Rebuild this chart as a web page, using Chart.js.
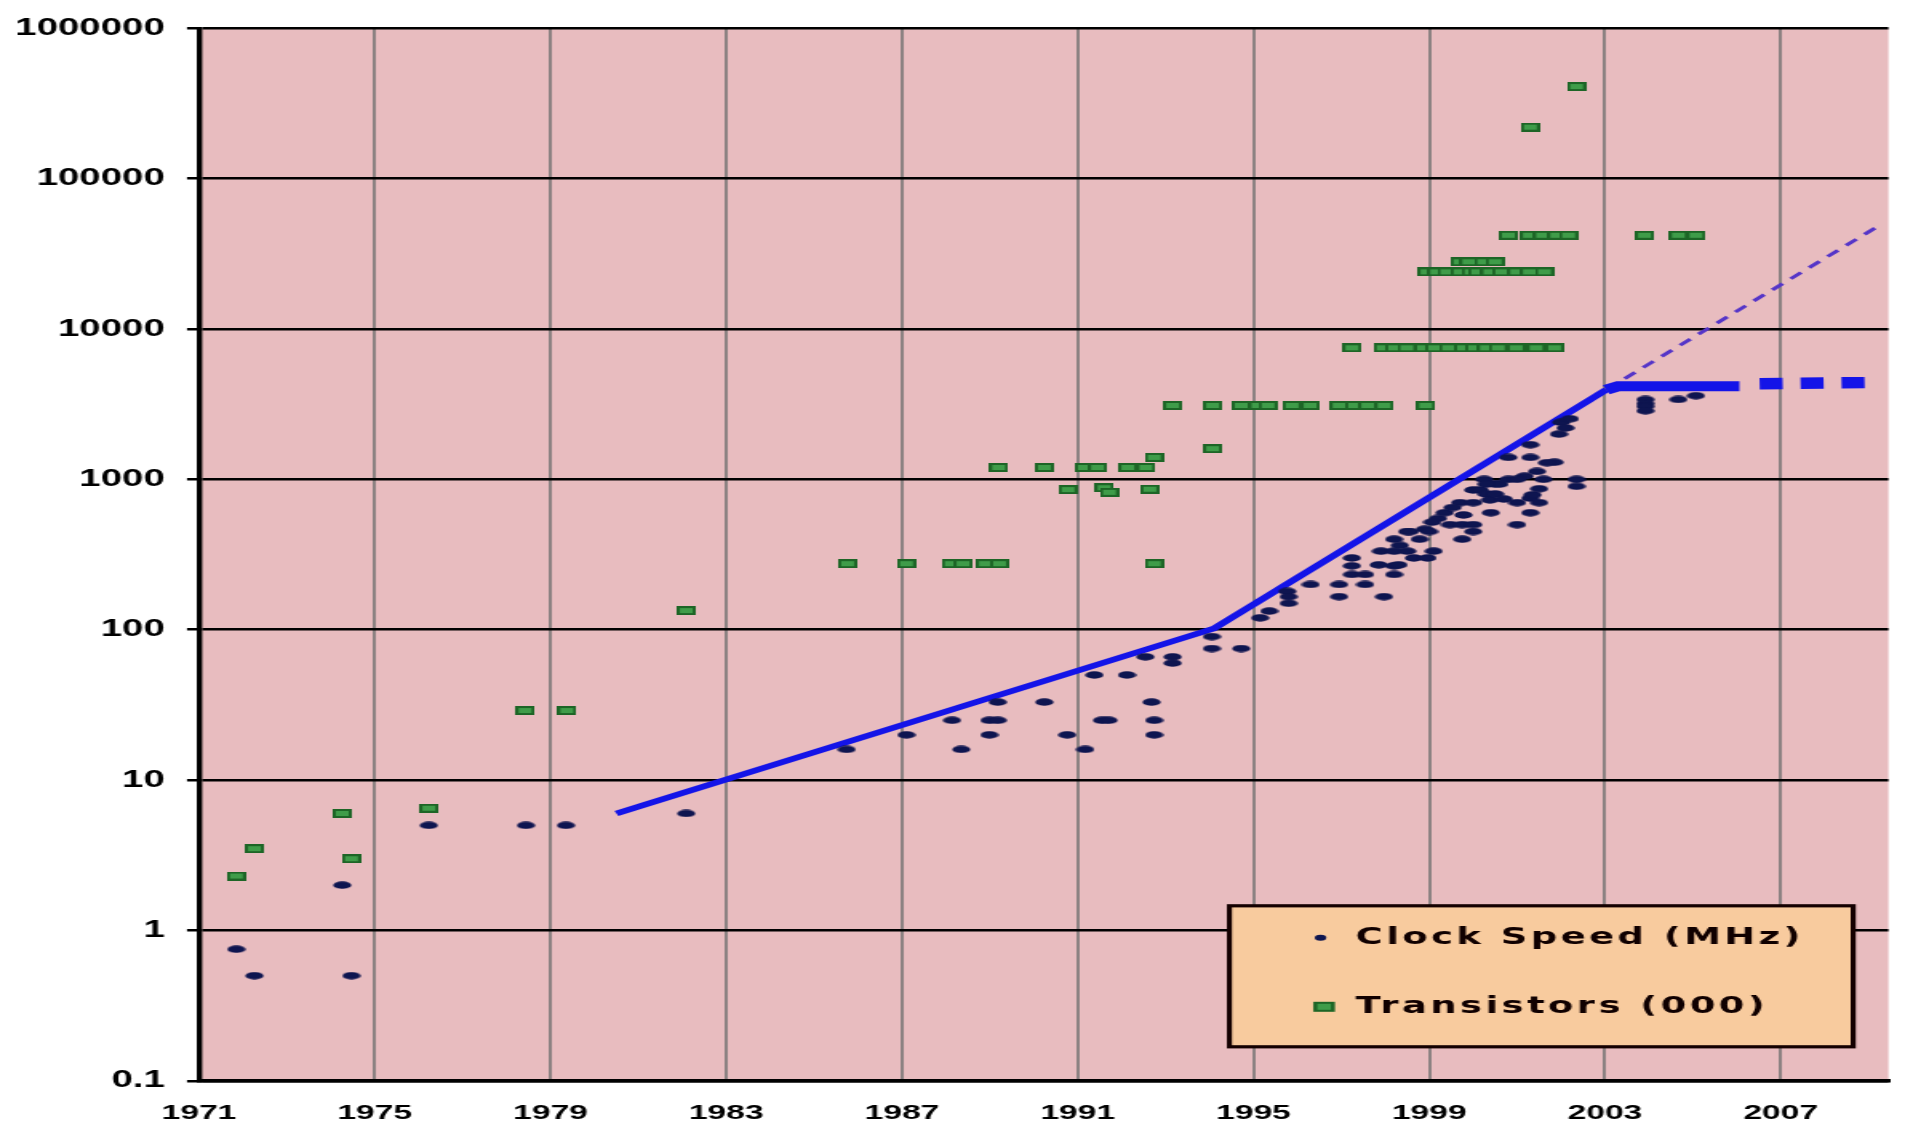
<!DOCTYPE html>
<html>
<head>
<meta charset="utf-8">
<title>Clock Speed and Transistors</title>
<script src="https://cdn.jsdelivr.net/npm/chart.js@4.4.0/dist/chart.umd.min.js"></script>
<style>
  html, body { margin: 0; padding: 0; background: #fff; overflow: hidden; }
</style>
</head>
<body>
<!-- the canvas is drawn narrow and shown wide, like the old stretched chart -->
<canvas id="myChart" width="1196" height="1127" style="display:block;width:1913px;height:1127px"></canvas>
<script>

// clock speed per processor (MHz)
const clockYears = [
  1971.85, 1972.26, 1974.26, 1974.47, 1976.23, 1978.44, 1979.35, 1982.09,
  1985.74, 1987.1, 1988.14, 1988.35, 1988.99, 1989.18, 1988.99, 1989.18,
  1990.24, 1990.76, 1991.17, 1991.38, 1991.55, 1991.7, 1992.12, 1992.54,
  1992.68, 1992.74, 1992.74, 1993.16, 1993.16, 1994.05, 1994.05, 1994.72,
  1995.15, 1995.36, 1995.77, 1995.8, 1995.8, 1996.3, 1996.95, 1996.95,
  1997.24, 1997.24, 1997.24, 1997.54, 1997.54, 1997.97, 1997.9, 1998.2,
  1998.2, 1998.2, 1998.2, 1998.5, 1998.5, 1998.65, 1998.56, 1998.9,
  1998.96, 1999.0, 1999.1, 1999.2, 1999.35, 1999.47, 1999.7, 1999.75,
  1999.75, 1999.78, 2000.0, 2000.0, 2000.0, 2000.0, 2000.15, 2000.25,
  2000.3, 2000.38, 2000.4, 2000.5, 2000.5, 2000.6, 2000.8, 2000.8,
  2001.0, 2001.0, 2001.17, 2001.3, 2001.3, 2001.3, 2001.3, 2001.35,
  2001.45, 2001.5, 2001.6, 2001.85, 2001.95, 2002.0, 2002.1, 2002.2,
  2002.35, 2002.35, 2003.92, 2003.92, 2003.92, 2003.92, 2004.67, 2005.07,
  1998.33, 1998.78, 1999.07, 1999.53, 2000.3, 2000.7, 2001.0, 2001.68,
  2001.5, 1998.3, 1997.85
];
const clockMHz = [
  0.75, 0.5, 2, 0.5, 5, 5, 5, 6,
  16, 20, 25, 16, 25, 25, 20, 33,
  33, 20, 16, 50, 25, 25, 50, 66,
  33, 25, 20, 66, 60, 90, 75, 75,
  120, 133, 180, 166, 150, 200, 200, 166,
  300, 266, 233, 233, 200, 166, 333, 400,
  333, 266, 233, 450, 333, 300, 450, 466,
  300, 450, 333, 550, 600, 500, 700, 500,
  400, 580, 850, 700, 500, 450, 850, 1000,
  800, 730, 600, 933, 800, 930, 1400, 1000,
  700, 500, 1050, 1700, 1400, 750, 600, 790,
  1130, 866, 1000, 1300, 2000, 2400, 2200, 2530,
  1000, 900, 3400, 3200, 3060, 2860, 3400, 3600,
  364, 400, 520, 650, 930, 740, 1000, 1290,
  700, 270, 270
];

// transistor counts (thousands)
const transistorYears = [
  1971.85, 1972.26, 1974.26, 1974.47, 1976.23, 1978.42, 1979.37, 1982.09,
  1985.76, 1987.1, 1988.12, 1988.39, 1988.9, 1989.22, 1989.2, 1990.24,
  1990.78, 1991.15, 1991.45, 1991.6, 1991.72, 1992.14, 1992.55, 1992.64,
  1992.74, 1992.74, 1993.16, 1994.07, 1994.07, 1994.72, 1995.1, 1995.33,
  1995.88, 1996.29, 1996.95, 1997.3, 1997.6, 1997.97, 1998.92,
  1997.24, 1997.95, 1998.21, 1998.49, 1998.87, 1999.12, 1999.44, 1999.78,
  2000.03, 2000.3, 2000.57, 2000.98, 2001.43, 2001.85,
  1998.95, 1999.17, 1999.4, 1999.7, 1999.95, 2000.1, 2000.38, 2000.65,
  2000.99, 2001.28, 2001.62,
  1999.7, 1999.9, 2000.24, 2000.5,
  2000.8, 2001.28, 2001.58, 2001.9, 2002.17, 2003.9, 2004.67, 2005.07,
  2001.3, 2002.35
];
const transistorK = [
  2.3, 3.5, 6, 3, 6.5, 29, 29, 134,
  275, 275, 275, 275, 275, 275, 1200, 1200,
  855, 1200, 1200, 880, 820, 1200, 1200, 860,
  1400, 275, 3100, 3100, 1600, 3100, 3100, 3100,
  3100, 3100, 3100, 3100, 3100, 3100, 3100,
  7500, 7500, 7500, 7500, 7500, 7500, 7500, 7500,
  7500, 7500, 7500, 7500, 7500, 7500,
  24000, 24000, 24000, 24000, 24000, 24000, 24000, 24000,
  24000, 24000, 24000,
  28000, 28000, 28000, 28000,
  42000, 42000, 42000, 42000, 42000, 42000, 42000, 42000,
  220000, 410000
];

// clock speed trend, the flattening after 2003 and the old rate carried on
const trendYears = [1980.5, 1994.1, 2003.03];
const trendMHz = [6, 102, 3950];
const flatYears = [2003.03, 2003.3, 2006.06];
const flatMHz = [3950, 4170, 4170];
const flatDashYears = [2006.52, 2008.91];
const flatDashMHz = [4330, 4400];
const oldRateYears = [2003.03, 2009.2];
const oldRateMHz = [3950, 48000];

const xTicks = [1971, 1975, 1979, 1983, 1987, 1991, 1995, 1999, 2003, 2007];
const yTicks = [0.1, 1, 10, 100, 1000, 10000, 100000, 1000000];

function toPoints(xs, ys) {
  return xs.map((x, i) => ({ x: x, y: ys[i] }));
}

// marker images
function makeDot(w, h) {
  const c = document.createElement('canvas');
  c.width = w; c.height = h;
  const g = c.getContext('2d');
  g.fillStyle = '#0e1550';
  g.beginPath();
  g.ellipse(w / 2, h / 2, w / 2 - 0.3, h / 2 - 0.3, 0, 0, Math.PI * 2);
  g.fill();
  return c;
}

function makeBox(w, h) {
  const c = document.createElement('canvas');
  c.width = w; c.height = h;
  const g = c.getContext('2d');
  g.fillStyle = '#1d6526';
  g.fillRect(0, 0, w, h);
  g.fillStyle = '#3f9c49';
  g.fillRect(2, 2, w - 4, h - 4);
  return c;
}

const dotMarker = makeDot(12, 8);
const boxMarker = makeBox(12, 9);

const plotBackground = {
  id: 'plotBackground',
  beforeDraw(chart) {
    const { ctx, chartArea: a } = chart;
    ctx.save();
    ctx.fillStyle = '#e8bcbf';
    ctx.fillRect(a.left, a.top, a.right - a.left, a.bottom - a.top);
    ctx.restore();
  }
};

// legend box sitting inside the plot, bottom right
const boxLegend = {
  id: 'boxLegend',
  afterDraw(chart) {
    const { ctx, chartArea: a } = chart;
    const right = a.right - 22;
    const bottom = a.bottom - 34;
    const left = right - 390;
    const top = bottom - 141;

    ctx.save();
    ctx.fillStyle = '#f8cb9e';
    ctx.fillRect(left, top, right - left, bottom - top);
    ctx.lineWidth = 3.2;
    ctx.strokeStyle = '#140000';
    ctx.strokeRect(left, top, right - left, bottom - top);

    const rows = [top + 32, top + 101];
    const ds = chart.data.datasets;

    ctx.fillStyle = '#0e1550';
    ctx.beginPath();
    ctx.ellipse(left + 57, rows[0], 3.6, 3, 0, 0, Math.PI * 2);
    ctx.fill();

    ctx.fillStyle = '#1d6526';
    ctx.fillRect(left + 52.5, rows[1] - 5, 13.5, 10);
    ctx.fillStyle = '#3f9c49';
    ctx.fillRect(left + 55, rows[1] - 3, 8.5, 6);

    ctx.fillStyle = '#100000';
    ctx.font = 'bold 23px "DejaVu Sans", sans-serif';
    ctx.letterSpacing = '2.2px';
    ctx.textBaseline = 'middle';
    ctx.textAlign = 'left';
    ctx.fillText(ds[0].label, left + 79, rows[0]);
    ctx.fillText(ds[1].label, left + 79, rows[1]);
    ctx.restore();
  }
};

Chart.defaults.font.family = '"Liberation Sans", Arial, sans-serif';
Chart.defaults.color = '#000';

const data = {
  datasets: [
    {
      label: 'Clock Speed (MHz)',
      data: toPoints(clockYears, clockMHz),
      pointStyle: dotMarker,
      pointRadius: 5
    },
    {
      label: 'Transistors (000)',
      data: toPoints(transistorYears, transistorK),
      pointStyle: boxMarker,
      pointRadius: 5
    },
    {
      label: 'trend',
      data: toPoints(trendYears, trendMHz),
      showLine: true,
      pointRadius: 0,
      borderColor: '#1414e8',
      borderWidth: 5.5
    },
    {
      label: 'flat',
      data: toPoints(flatYears, flatMHz),
      showLine: true,
      pointRadius: 0,
      borderColor: '#1414e8',
      borderWidth: 10
    },
    {
      label: 'flat projected',
      data: toPoints(flatDashYears, flatDashMHz),
      showLine: true,
      pointRadius: 0,
      borderColor: '#1414e8',
      borderWidth: 11.5,
      borderDash: [14.4, 11.2]
    },
    {
      label: 'old rate',
      data: toPoints(oldRateYears, oldRateMHz),
      showLine: true,
      pointRadius: 0,
      borderColor: '#5535c8',
      borderWidth: 3,
      borderDash: [9, 7]
    }
  ]
};

const config = {
  type: 'scatter',
  data: data,
  options: {
    responsive: false,
    animation: false,
    events: [],
    layout: { padding: { top: 24.4, right: 15.4, bottom: 0, left: 0 } },
    plugins: {
      legend: { display: false },
      tooltip: { enabled: false }
    },
    scales: {
      x: {
        type: 'linear',
        min: 1971,
        max: 2009.45,
        afterBuildTicks: (scale) => { scale.ticks = xTicks.map(v => ({ value: v })); },
        afterFit: (scale) => { scale.height = 46.2; },
        grid: { color: '#8c8282', lineWidth: 2, drawTicks: false },
        border: { color: '#000', width: 3.4 },
        ticks: {
          autoSkip: false,
          maxRotation: 0,
          padding: 19.6,
          font: { size: 21, weight: 'bold' },
          callback: (v) => String(v)
        }
      },
      y: {
        type: 'logarithmic',
        min: 0.1,
        max: 1000000,
        afterBuildTicks: (scale) => { scale.ticks = yTicks.map(v => ({ value: v })); },
        afterFit: (scale) => { scale.width = 124.4; },
        grid: { color: '#000', lineWidth: 2.5, tickLength: 7.5, tickColor: '#000' },
        border: { color: '#000', width: 3.4 },
        ticks: {
          autoSkip: false,
          padding: 13.9,
          font: { size: 24, weight: 'bold' },
          callback: (v) => String(v)
        }
      }
    }
  },
  plugins: [plotBackground, boxLegend]
};

const myChart = new Chart(
  document.getElementById('myChart'),
  config
);

</script>
</body>
</html>
